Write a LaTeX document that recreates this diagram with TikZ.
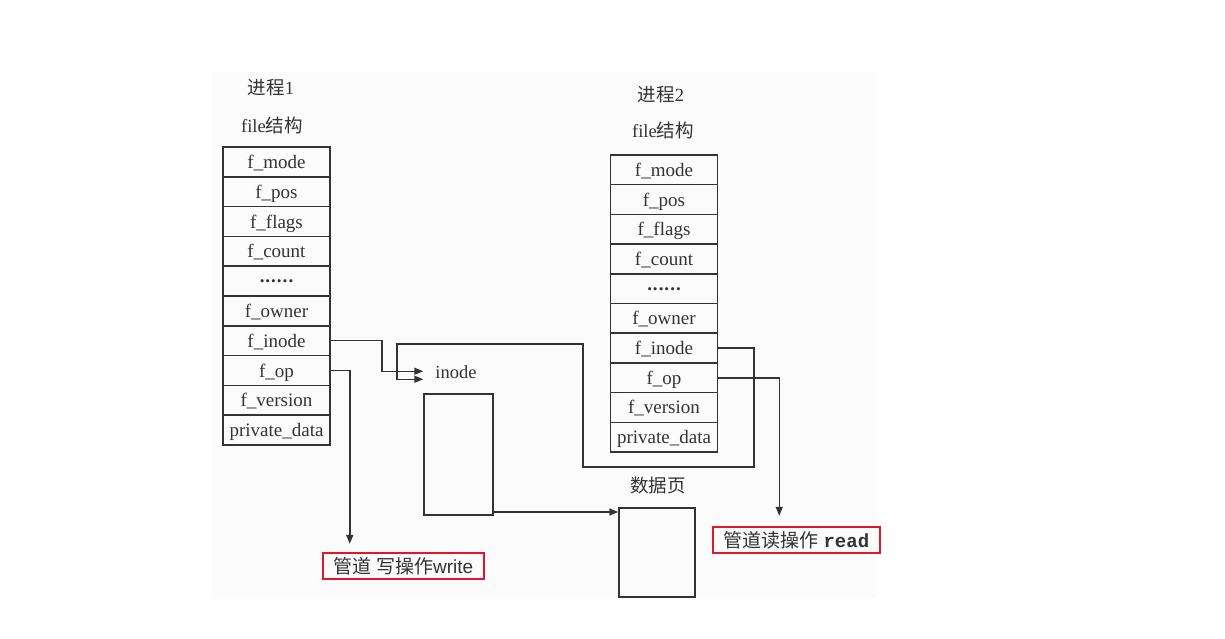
\documentclass[tikz,border=0pt]{standalone}
\usepackage{fontspec}
\setmainfont{Liberation Serif}
\newfontfamily\cjk{Noto Sans CJK SC}
\newfontfamily\cour{Liberation Mono}
\newfontfamily\arial{Liberation Sans}
\usetikzlibrary{arrows.meta}
\definecolor{ink}{HTML}{333333}
\definecolor{boxred}{HTML}{E2162A}
\definecolor{speck}{HTML}{FAFBFA}
\newcommand\mysixdots{\raisebox{5pt}{\textbf{.\kern1pt.\kern1pt.\kern1pt.\kern1pt.\kern1pt.}}}
\tikzset{
  row/.style={draw=ink, line width=1.5pt, minimum width=107pt, minimum height=29.8pt,
    inner sep=0pt, text height=13pt, text depth=0pt, font=\fontsize{19}{20}\selectfont, text=ink},
  lbl/.style={font=\fontsize{18.5}{20}\selectfont, text=ink, inner sep=0pt},
  plain/.style={draw=ink, line width=1.5pt, inner sep=0pt},
  conn/.style={draw=ink, line width=1.5pt},
  arr/.style={conn, -{Triangle[length=9pt,width=7pt]}},
  redbox/.style={draw=boxred, line width=2.4pt, inner sep=0pt, text=ink,
    font=\fontsize{19}{20}\selectfont}
}
\begin{document}
\begin{tikzpicture}[x=1pt,y=-1pt]
\useasboundingbox (0,0) rectangle (1225,639);
\fill[speck] (212,72) rectangle (877,598);
% labels
\node[lbl] (p1) at (271,88) {{\cjk 进程}1};
\node[lbl] (fs1) at (272,125) {file{\cjk 结构}};
\node[lbl] (p2) at (661,95) {{\cjk 进程}2};
\node[lbl] (fs2) at (663,130) {file{\cjk 结构}};
% left table
\foreach \t [count=\i] in {f\_mode,f\_pos,f\_flags,f\_count,\mysixdots,f\_owner,f\_inode,f\_op,f\_version,private\_data}{
  \node[row] (L\i) at (276.5,{147+29.8*(\i-0.5)}) {\t};
}
% right table
\foreach \t [count=\i] in {f\_mode,f\_pos,f\_flags,f\_count,\mysixdots,f\_owner,f\_inode,f\_op,f\_version,private\_data}{
  \node[row] (R\i) at (664,{155+29.7*(\i-0.5)}) {\t};
}
% inode box
\node[plain, minimum width=69pt, minimum height=121pt] (inode) at (458.5,454.5) {};
\node[lbl] (inodel) at (456,372) {inode};
% data page
\node[plain, minimum width=76pt, minimum height=89pt] (data) at (657,552.5) {};
\node[lbl] (datal) at (658,485) {\cjk 数据页};
% red boxes
\node[redbox, minimum width=161pt, minimum height=26pt] (write) at (403.5,566) {{\cjk 管道 写操作}{\arial write}};
\node[redbox, minimum width=167pt, minimum height=26pt] (read) at (796.5,540) {{\cjk 管道读操作} {\cour\bfseries read}};
% waypoints
\coordinate (w1) at (754,467);
\coordinate (w2) at (583,467);
\coordinate (w3) at (583,344);
\coordinate (w4) at (397,344);
\coordinate (dy) at (0,512);
% connectors
\draw[arr] (L7.east) -- ++(51,0) |- ([yshift=22pt]inode.north west);
\draw[arr] (R7.east) -- (R7.east -| w1) -- (w1) -- (w2) -- (w3) -- (w4) |- ([yshift=14pt]inode.north west);
\draw[arr, shorten >=8pt] (L8.east) -- ++(19,0) coordinate (c1) -- (c1 |- write.north);
\draw[arr, shorten >=10pt] (R8.east) -- ++(61,0) coordinate (c2) -- (c2 |- read.north);
\draw[arr] (inode.east |- dy) -- (data.west |- dy);
\end{tikzpicture}
\end{document}
